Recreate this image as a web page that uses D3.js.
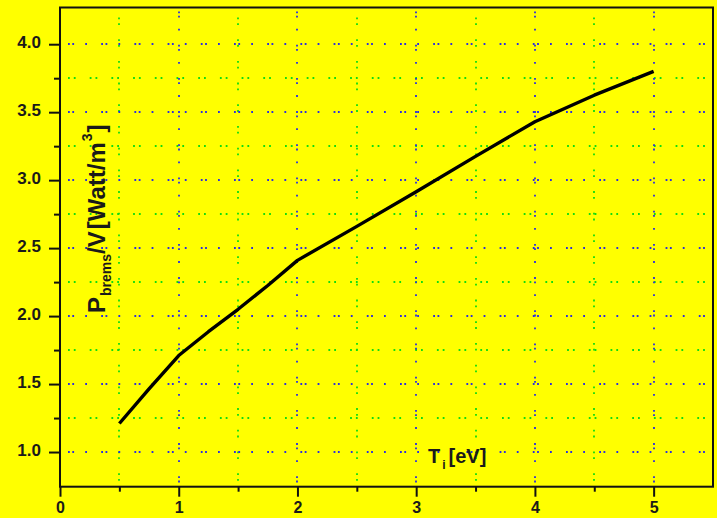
<!DOCTYPE html>
<html>
<head>
<meta charset="utf-8">
<script src="https://cdn.jsdelivr.net/npm/d3@7"></script>
<style>
  html, body { margin: 0; padding: 0; background: #ffff00; }
  svg { display: block; }
  text { font-family: "Liberation Sans", Arial, sans-serif; font-weight: bold; fill: #1a1a1a; }
</style>
</head>
<body>
<svg id="chart" width="717" height="518"></svg>
<script>
// Ion temperature T_i [eV]
const temperature = [0.5, 0.75, 1, 1.25, 1.5, 1.75, 2, 2.5, 3, 3.5, 4, 4.5, 5];
// Bremsstrahlung power density P_brems/V [Watt/m^3]
const powerDensity = [1.21, 1.465, 1.71, 1.885, 2.05, 2.225, 2.41, 2.66, 2.915, 3.175, 3.43, 3.625, 3.80];

const xMajorTicks = [0, 1, 2, 3, 4, 5];
const xMinorTicks = [0.5, 1.5, 2.5, 3.5, 4.5];
const yMajorTicks = [1.0, 1.5, 2.0, 2.5, 3.0, 3.5, 4.0];
const yMinorTicks = [1.25, 1.75, 2.25, 2.75, 3.25, 3.75];

const W = 717, H = 518;
const plot = { left: 60, right: 713, top: 7.5, bottom: 486.7 };

const svg = d3.select("#chart");
svg.append("rect").attr("width", W).attr("height", H).attr("fill", "#ffff00");

const x = d3.scaleLinear().domain([0, 5.5]).range([plot.left, plot.right]);
const y = d3.scaleLinear().domain([0.745, 4.27]).range([plot.bottom, plot.top]);

// dotted grid: blue on major ticks, green on minor ticks
const blue = "#2c2ce0", green = "#10dc10";
const dotW = 1.8;
const grid = svg.append("g");
const hGrid = (vals, color, dash, off) => grid.selectAll(null).data(vals).enter().append("line")
  .attr("x1", plot.left).attr("x2", plot.right)
  .attr("y1", d => Math.round(y(d))).attr("y2", d => Math.round(y(d)))
  .attr("stroke", color).attr("stroke-width", dotW)
  .attr("stroke-dasharray", dash).attr("stroke-dashoffset", off);
const vGrid = (vals, color, dash, off) => grid.selectAll(null).data(vals).enter().append("line")
  .attr("y1", plot.top).attr("y2", plot.bottom)
  .attr("x1", d => Math.round(x(d))).attr("x2", d => Math.round(x(d)))
  .attr("stroke", color).attr("stroke-width", dotW)
  .attr("stroke-dasharray", dash).attr("stroke-dashoffset", off);

hGrid(yMinorTicks, green, "1.8,4,1.8,14.1", -8);
vGrid(xMinorTicks, green, "1.8,4,1.8,14.1", -10);
hGrid(yMajorTicks, blue, "1.8,2.5,1.8,11.1,1.8,14.2", -8);
vGrid(xMajorTicks.filter(d => d > 0), blue, "1.8,2.5,1.8,11.1,1.8,14.2", -4);

// curve
const line = d3.line().x((d, i) => x(temperature[i])).y(d => y(d));
svg.append("path")
  .attr("d", line(powerDensity))
  .attr("fill", "none")
  .attr("stroke", "#000")
  .attr("stroke-width", 3.4)
  .attr("stroke-linejoin", "round");

// frame
svg.append("rect")
  .attr("x", plot.left).attr("y", plot.top)
  .attr("width", plot.right - plot.left).attr("height", plot.bottom - plot.top)
  .attr("fill", "none").attr("stroke", "#111").attr("stroke-width", 2);

// axes
const xAxis = d3.axisBottom(x).tickValues(xMajorTicks).tickFormat(d3.format("d"))
  .tickSize(10).tickSizeOuter(0).tickPadding(3);
const gx = svg.append("g").attr("transform", `translate(0,${plot.bottom})`).call(xAxis);
const xAxisMinor = d3.axisBottom(x).tickValues(xMinorTicks).tickFormat("").tickSize(5).tickSizeOuter(0);
const gxm = svg.append("g").attr("transform", `translate(0,${plot.bottom})`).call(xAxisMinor);

const yAxis = d3.axisLeft(y).tickValues(yMajorTicks).tickFormat(d3.format(".1f"))
  .tickSize(11).tickSizeOuter(0).tickPadding(8);
const gy = svg.append("g").attr("transform", `translate(${plot.left},0)`).call(yAxis);
const yAxisMinor = d3.axisLeft(y).tickValues(yMinorTicks).tickFormat("").tickSize(6).tickSizeOuter(0);
const gym = svg.append("g").attr("transform", `translate(${plot.left},0)`).call(yAxisMinor);

[gx, gxm, gy, gym].forEach(g => {
  g.select(".domain").remove();
  g.selectAll(".tick line").attr("stroke", "#111").attr("stroke-width", 2);
  g.selectAll(".tick text").attr("font-size", 17).attr("font-family", null).attr("fill", "#222");
});
gx.selectAll(".tick text").attr("font-size", 16).attr("dy", "0.82em");
gy.selectAll(".tick text").attr("dy", "0.22em");

// x title, inside the plot area
const xt = svg.append("text").attr("x", 428).attr("y", 463).attr("font-size", 20);
xt.append("tspan").text("T");
xt.append("tspan").attr("font-size", 12).attr("dy", 6).attr("dx", 2).text("i");
xt.append("tspan").attr("dy", -6).attr("dx", 3).text("[eV]");

// y title, rotated
const yt = svg.append("text").attr("transform", "translate(104.5,313) rotate(-90)").attr("font-size", 24);
yt.append("tspan").text("P");
yt.append("tspan").attr("font-size", 14).attr("dy", 6).attr("dx", 1).text("brems");
yt.append("tspan").attr("dy", -6).text("/V");
yt.append("tspan").attr("dx", 2).text("[Watt/m");
yt.append("tspan").attr("font-size", 14).attr("dy", -13).attr("dx", 1).text("3");
yt.append("tspan").attr("dy", 13).attr("dx", 1).text("]");
</script>
</body>
</html>
